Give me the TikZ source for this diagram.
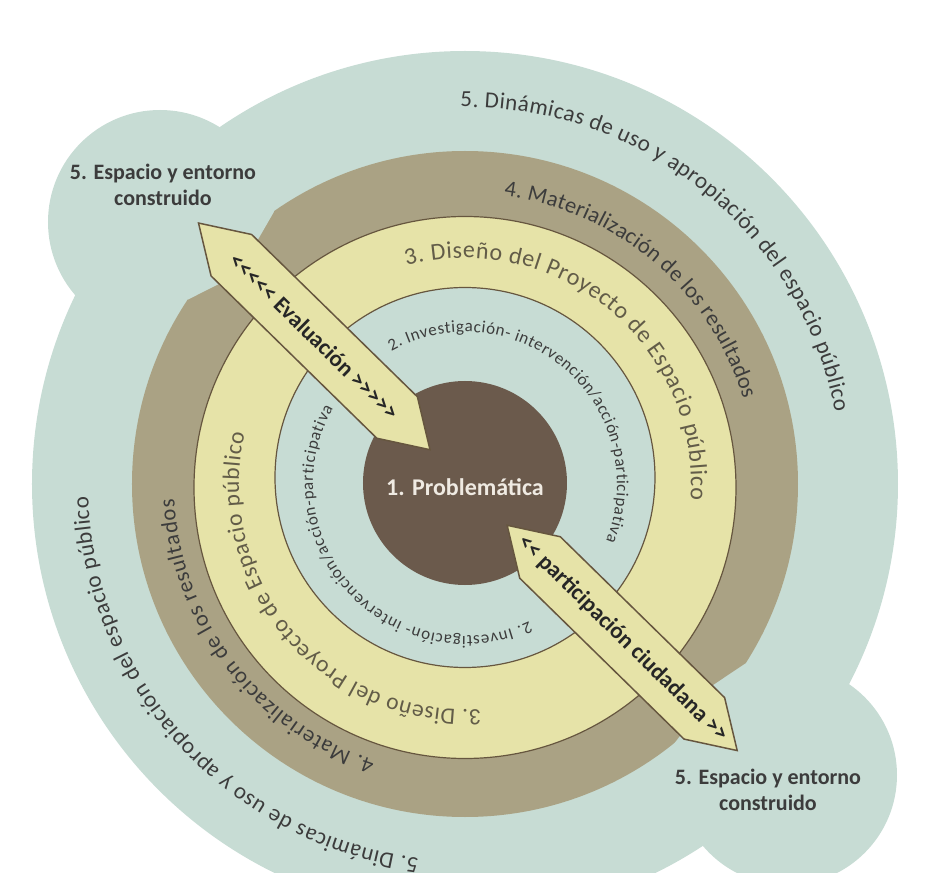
\documentclass[tikz,border=0pt]{standalone}
\usepackage{fontspec}
\setmainfont{Carlito}
\usepackage{xcolor}
\usetikzlibrary{math}
\usetikzlibrary{decorations.text}

\definecolor{paleblue}{HTML}{C7DCD4}
\definecolor{khaki}{HTML}{AAA284}
\definecolor{cream}{HTML}{E6E3A8}
\definecolor{umber}{HTML}{6B5A4C}
\definecolor{rim}{HTML}{66563F}
\definecolor{ink}{HTML}{3C3C3C}
\definecolor{inkbrown}{HTML}{625C48}
\definecolor{chalk}{HTML}{EFEAE2}

% single chevrons, kept apart so they do not turn into guillemets
\newcommand{\ltmark}{<\kern0pt}
\newcommand{\gtmark}{>\kern0pt}

\begin{document}
\begin{tikzpicture}[
    x=1pt, y=1pt,
    ringtext/.style={decorate, decoration={text along path, text align=fit to path, text color=ink}},
    arrowbox/.style={fill=cream, draw=rim, line width=1.5pt, line join=miter},
    arrowtext/.style={font=\bfseries\fontsize{23}{23}\selectfont, text=black!85},
    endlabel/.style={align=center, font=\bfseries\fontsize{22}{26}\selectfont, text=ink},
  ]

  \tikzmath{
    \axis = -44.4; % direction of the two arrows
  }

  \useasboundingbox (-465,-389) rectangle (465,484);

  % Background: big disc plus two lobes
  \fill[paleblue] (0,0) circle[radius=433];
  \fill[paleblue] (-305,262) circle[radius=112];
  \fill[paleblue] (322,-291) circle[radius=110];

  % Ring 4
  \fill[khaki] (0,0) circle[radius=333];
  % small notches next to the arrows
  \begin{scope}[rotate=\axis]
    \fill[paleblue] (-350,66) -- (-327,61) -- (-319,30) -- (-316,-30) -- (-327,-62) -- (-350,-66) -- cycle;
    \fill[paleblue] (350,72) -- (326,68) -- (318,30) -- (330,-30) -- (333,-55) -- (350,-55) -- cycle;
  \end{scope}

  % Ring 3
  \filldraw[fill=cream, draw=rim, line width=1.2pt] (0,-3.5) circle[radius=271];
  % Ring 2
  \filldraw[fill=paleblue, draw=rim, line width=1.2pt] (0,6.5) circle[radius=190];
  % Core
  \fill[umber] (0,1) circle[radius=102];
  \node[font=\bfseries\fontsize{24}{24}\selectfont, text=chalk] (problema) at (0,-3) {1. Problemática};

  % Texts on the outer band
  \path[ringtext, decoration={text={|\fontsize{23}{23}\selectfont|5. Dinámicas de uso y apropiación del espacio público}}]
    (90.7:377) arc[start angle=90.7, end angle=11, radius=377];
  \path[ringtext, decoration={text={|\fontsize{23}{23}\selectfont|5. Dinámicas de uso y apropiación del espacio público}}]
    (-97:377) arc[start angle=-97, end angle=-178, radius=377];

  % Texts on ring 4
  \path[ringtext, decoration={text={|\fontsize{22.5}{22.5}\selectfont|4. Materialización de los resultados}}]
    (82.3:291) arc[start angle=82.3, end angle=17, radius=291];
  \path[ringtext, decoration={text={|\fontsize{22.5}{22.5}\selectfont|4. Materialización de los resultados}}]
    (-108:291) arc[start angle=-108, end angle=-177, radius=291];

  % Texts on ring 3
  \path[ringtext, decoration={text color=inkbrown, text={|\fontsize{24}{24}\selectfont|3. Diseño del Proyecto de Espacio público}}]
    (105:226) arc[start angle=105, end angle=-4, radius=226];
  \path[ringtext, decoration={text color=inkbrown, text={|\fontsize{23.5}{23.5}\selectfont|3. Diseño del Proyecto de Espacio público}}]
    (-86:226) arc[start angle=-86, end angle=-193, radius=226];

  % Texts on ring 2
  \path[ringtext, decoration={text={|\fontsize{17}{17}\selectfont|2. Investigación- intervención/acción-participativa}}]
    (119:152) arc[start angle=119, end angle=-22, radius=152];
  \path[ringtext, decoration={text={|\fontsize{17}{17}\selectfont|2. Investigación- intervención/acción-participativa}}]
    (-65:152) arc[start angle=-65, end angle=-210, radius=152];

  % Arrows along the diagonal
  \begin{scope}[rotate=\axis]
    \draw[arrowbox] (-373,0) -- (-327,29) -- (-95,29) -- (-49,0) -- (-95,-29) -- (-327,-29) -- cycle;
    \node[arrowtext, rotate=\axis] (evaluacion) at (-211,0)
      {\ltmark\ltmark\ltmark\ltmark\ltmark{} Evaluación \gtmark\gtmark\gtmark\gtmark\gtmark};
    \draw[arrowbox] (59,0) -- (105,29) -- (335,29) -- (381,0) -- (335,-29) -- (105,-29) -- cycle;
    \node[arrowtext, rotate=\axis] (participacion) at (221,0)
      {\ltmark\ltmark{} participación ciudadana \gtmark\gtmark};
  \end{scope}

  % Labels at both ends
  \node[endlabel] (espacioNW) at (-302,299) {5. Espacio y entorno\\construido};
  \node[endlabel] (espacioSE) at (303,-306) {5. Espacio y entorno\\construido};

\end{tikzpicture}
\end{document}
